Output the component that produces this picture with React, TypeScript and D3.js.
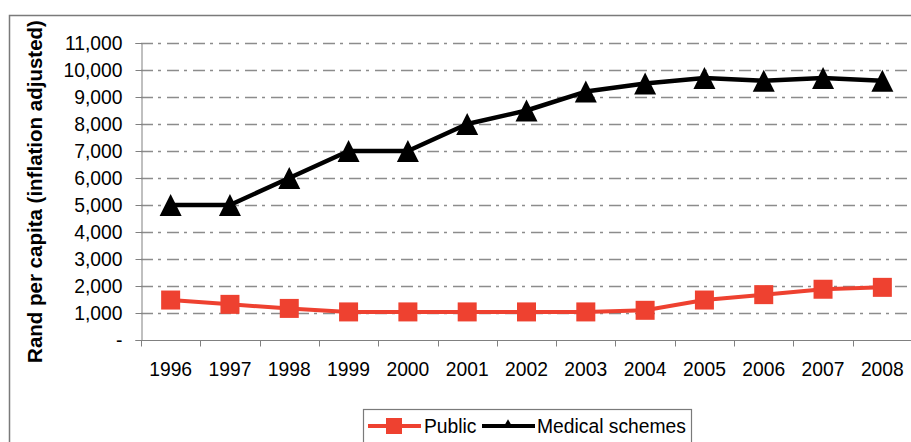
import React, { useEffect, useRef } from "react";
import * as d3 from "d3";

const years = ["1996", "1997", "1998", "1999", "2000", "2001", "2002", "2003", "2004", "2005", "2006", "2007", "2008"];
const publicValues = [1480, 1320, 1170, 1040, 1040, 1040, 1040, 1040, 1100, 1480, 1680, 1880, 1950];
const schemeValues = [5000, 5000, 6000, 7000, 7000, 8000, 8500, 9200, 9500, 9700, 9600, 9700, 9600];
const yTicks = [0, 1000, 2000, 3000, 4000, 5000, 6000, 7000, 8000, 9000, 10000, 11000];

const RED = "#ee4130";
const FONT = "'Liberation Sans', Arial, sans-serif";
const FS = 19.3;

const App = () => {
  const ref = useRef<SVGSVGElement>(null);
  const width = 911;
  const height = 442;

  useEffect(() => {
    const svg = d3.select(ref.current);
    svg.selectAll("*").remove();

    const left = 141, right = 912, top = 43, bottom = 340;

    const x = d3.scaleBand().domain(years).range([left, right]).padding(0);
    const y = d3.scaleLinear().domain([0, 11000]).range([bottom, top]);
    const cx = (d: string) => (x(d) as number) + x.bandwidth() / 2;

    // outer frame
    svg.append("rect")
      .attr("x", 9.5).attr("y", 15.5)
      .attr("width", 920).attr("height", 450)
      .attr("fill", "none").attr("stroke", "#7a7a7a").attr("stroke-width", 1.5);

    // gridlines
    svg.append("g")
      .selectAll("line")
      .data(yTicks.filter((d) => d > 0))
      .join("line")
      .attr("x1", left).attr("x2", width)
      .attr("y1", (d) => Math.round(y(d)) + 0.5).attr("y2", (d) => Math.round(y(d)) + 0.5)
      .attr("stroke", "#8c8c8c").attr("stroke-width", 1.3)
      .attr("stroke-dasharray", "12,5,3,6");

    // y axis
    const ya = svg.append("g").attr("transform", `translate(${left + 0.5},0)`);
    ya.call(
      d3.axisLeft(y).tickValues(yTicks).tickSize(6).tickPadding(13)
        .tickFormat((d) => (+d === 0 ? "-" : d3.format(",")(+d)))
    );
    ya.select(".domain").attr("stroke", "#808080");
    ya.selectAll(".tick line").attr("stroke", "#808080");
    ya.selectAll(".tick text")
      .attr("font-family", FONT).attr("font-size", FS).attr("fill", "#000")
      .attr("dy", "0.36em");

    // x axis
    const xa = svg.append("g").attr("transform", `translate(0,${bottom + 0.5})`);
    xa.append("line").attr("x1", left).attr("x2", right).attr("stroke", "#808080");
    xa.selectAll("line.tk")
      .data(years.concat(["end"]))
      .join("line")
      .attr("class", "tk")
      .attr("x1", (d) => Math.round(d === "end" ? right : (x(d) as number)) + 0.5)
      .attr("x2", (d) => Math.round(d === "end" ? right : (x(d) as number)) + 0.5)
      .attr("y1", 0).attr("y2", 6)
      .attr("stroke", "#808080");
    xa.selectAll("text")
      .data(years)
      .join("text")
      .attr("x", (d) => cx(d))
      .attr("y", 35)
      .attr("text-anchor", "middle")
      .attr("font-family", FONT).attr("font-size", FS)
      .text((d) => d);

    // y title
    svg.append("text")
      .attr("transform", `translate(42,${(top + bottom) / 2}) rotate(-90)`)
      .attr("text-anchor", "middle")
      .attr("font-family", FONT).attr("font-size", 20.5).attr("font-weight", "bold")
      .text("Rand per capita (inflation adjusted)");

    const line = d3.line<number>().x((_, i) => cx(years[i])).y((d) => y(d));

    // public series
    svg.append("path")
      .attr("d", line(publicValues))
      .attr("fill", "none").attr("stroke", RED).attr("stroke-width", 4)
      .attr("stroke-linejoin", "round");
    svg.append("g")
      .selectAll("rect")
      .data(publicValues)
      .join("rect")
      .attr("x", (_, i) => cx(years[i]) - 9.5)
      .attr("y", (d) => y(d) - 9.5)
      .attr("width", 19).attr("height", 19)
      .attr("fill", RED);

    // medical schemes series
    const tri = d3.symbol().type(d3.symbolTriangle).size(210);
    svg.append("path")
      .attr("d", line(schemeValues))
      .attr("fill", "none").attr("stroke", "#000").attr("stroke-width", 4.5)
      .attr("stroke-linejoin", "round");
    svg.append("g")
      .selectAll("path")
      .data(schemeValues)
      .join("path")
      .attr("d", "M0,-11L11,11L-11,11Z")
      .attr("transform", (d, i) => `translate(${cx(years[i])},${y(d)})`)
      .attr("fill", "#000");

    // legend
    const lg = svg.append("g");
    lg.append("rect")
      .attr("x", 363.5).attr("y", 409.5).attr("width", 328).attr("height", 60)
      .attr("fill", "#fff").attr("stroke", "#7a7a7a").attr("stroke-width", 1.2);
    lg.append("line").attr("x1", 368).attr("x2", 421).attr("y1", 426).attr("y2", 426)
      .attr("stroke", RED).attr("stroke-width", 4);
    lg.append("rect").attr("x", 386).attr("y", 418).attr("width", 16).attr("height", 16).attr("fill", RED);
    lg.append("text").attr("x", 424).attr("y", 433)
      .attr("font-family", FONT).attr("font-size", FS).text("Public");
    lg.append("line").attr("x1", 482).attr("x2", 535).attr("y1", 426).attr("y2", 426)
      .attr("stroke", "#000").attr("stroke-width", 4);
    lg.append("path").attr("d", tri()).attr("transform", "translate(508,425) scale(0.45)").attr("fill", "#000");
    lg.append("text").attr("x", 537).attr("y", 433)
      .attr("font-family", FONT).attr("font-size", FS).text("Medical schemes");
  }, []);

  return (
    <svg
      ref={ref}
      width={width}
      height={height}
      style={{ position: "absolute", left: 0, top: 0, display: "block", background: "#fff" }}
    />
  );
};

export default App;
